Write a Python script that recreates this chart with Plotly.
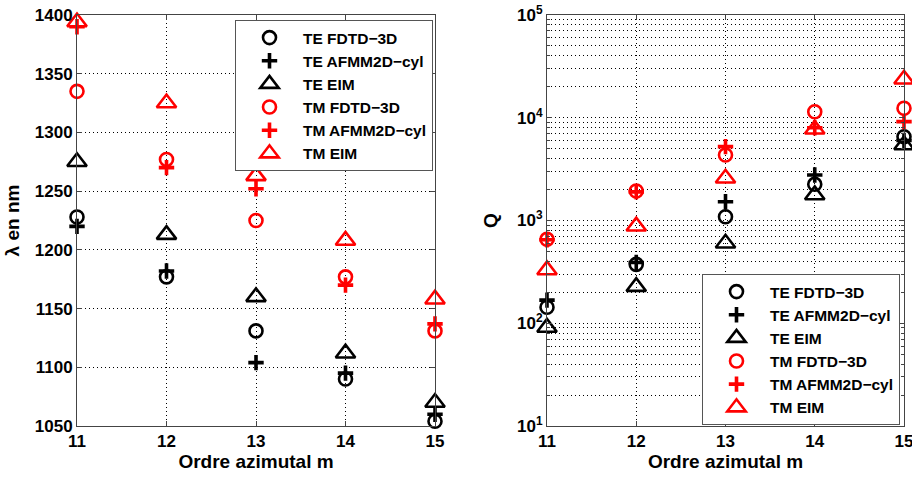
import plotly.graph_objects as go

m = [11, 12, 13, 14, 15]

# Left panel: resonance wavelength (nm)
lam_te_fdtd = [1228, 1177, 1131, 1090, 1054]
lam_te_afmm = [1220, 1182, 1104, 1095, 1060]
lam_te_eim = [1275, 1213, 1160, 1112, 1070]
lam_tm_fdtd = [1335, 1277, 1225, 1177, 1131]
lam_tm_afmm = [1390, 1270, 1252, 1170, 1137]
lam_tm_eim = [1394, 1325, 1263, 1208, 1158]

# Right panel: quality factor Q
q_te_fdtd = [143, 374, 1089, 2250, 6540]
q_te_afmm = [168, 390, 1524, 2773, 6000]
q_te_eim = [91, 227, 600, 1771, 5430]
q_tm_fdtd = [656, 1937, 4340, 11450, 12360]
q_tm_afmm = [650, 1900, 5230, 8000, 9160]
q_tm_eim = [330, 880, 2576, 7720, 23660]

names = ["TE FDTD−3D", "TE AFMM2D−cyl", "TE EIM", "TM FDTD−3D", "TM AFMM2D−cyl", "TM EIM"]
colors = ["black", "black", "black", "#ff0000", "#ff0000", "#ff0000"]
symbols = ["circle-open", "cross-thin-open", "triangle-up-open"] * 2
sizes = [13, 11, 17, 13, 11, 17]
widths = [2.6, 3.6, 2.6, 2.6, 3.6, 2.6]

left = [lam_te_fdtd, lam_te_afmm, lam_te_eim, lam_tm_fdtd, lam_tm_afmm, lam_tm_eim]
right = [q_te_fdtd, q_te_afmm, q_te_eim, q_tm_fdtd, q_tm_afmm, q_tm_eim]

FONT = "Liberation Sans"
fig = go.Figure()

for i in range(6):
    mk = dict(symbol=symbols[i], size=sizes[i], color=colors[i],
              line=dict(color=colors[i], width=widths[i]))
    fig.add_trace(go.Scatter(x=m, y=left[i], mode="markers", name=names[i], marker=mk,
                             cliponaxis=False, xaxis="x", yaxis="y", legend="legend"))
for i in range(6):
    mk = dict(symbol=symbols[i], size=sizes[i], color=colors[i],
              line=dict(color=colors[i], width=widths[i]))
    fig.add_trace(go.Scatter(x=m, y=right[i], mode="markers", name=names[i], marker=mk,
                             cliponaxis=False, xaxis="x2", yaxis="y2", legend="legend2"))

# log ticks
decade_vals = [10, 100, 1000, 10000, 100000]
decade_text = ["10<sup>1</sup>", "10<sup>2</sup>", "10<sup>3</sup>", "10<sup>4</sup>", "10<sup>5</sup>"]
minor_vals = [k * 10 ** d for d in range(1, 5) for k in range(2, 10)]

tickfont = dict(family=FONT, size=17, color="black", weight="bold")
titlefont = dict(family=FONT, size=19, color="black", weight="bold")
legfont = dict(family=FONT, size=15.5, color="black", weight="bold")
common = dict(showline=True, linecolor="#444", linewidth=1, mirror="all",
              ticks="inside", ticklen=5, tickcolor="#444", tickfont=tickfont,
              showgrid=True, gridcolor="black", griddash="1px,3px", gridwidth=1,
              zeroline=False, automargin=False, ticklabeloverflow="allow")

ydom = [1 - 426 / 477, 1 - 15 / 477]
fig.update_layout(
    width=912, height=477,
    margin=dict(l=0, r=0, t=0, b=0),
    paper_bgcolor="white", plot_bgcolor="white",
    xaxis=dict(domain=[77 / 912, 435 / 912], range=[11, 15], tickvals=m,
               title=dict(text="Ordre azimutal m", font=titlefont, standoff=2), **common),
    yaxis=dict(domain=ydom, range=[1050, 1400], tickvals=[1050, 1100, 1150, 1200, 1250, 1300, 1350, 1400],
               title=dict(text="λ en nm", font=titlefont, standoff=10), **common),
    xaxis2=dict(domain=[547 / 912, 904 / 912], range=[11, 15], tickvals=m, anchor="y2",
                title=dict(text="Ordre azimutal m", font=titlefont, standoff=2), **common),
    yaxis2=dict(domain=ydom, type="log", range=[1, 5], tickvals=decade_vals, ticktext=decade_text,
                anchor="x2", title=dict(text="Q", font=titlefont, standoff=14),
                minor=dict(tickmode="array", tickvals=minor_vals, ticks="inside", ticklen=3,
                           tickcolor="#444", showgrid=True, gridcolor="black",
                           griddash="1px,3px", gridwidth=1),
                **common),
    legend=dict(x=235 / 912, y=1 - 20 / 477, xanchor="left", yanchor="top",
                bgcolor="white", bordercolor="#555", borderwidth=1,
                font=legfont, itemwidth=57),
    legend2=dict(x=702 / 912, y=1 - 274 / 477, xanchor="left", yanchor="top",
                 bgcolor="white", bordercolor="#555", borderwidth=1,
                 font=legfont, itemwidth=57),
)

fig.write_html("out.html", config={"displayModeBar": False},
               post_script="document.body.style.margin='0';document.body.style.overflow='hidden';")
